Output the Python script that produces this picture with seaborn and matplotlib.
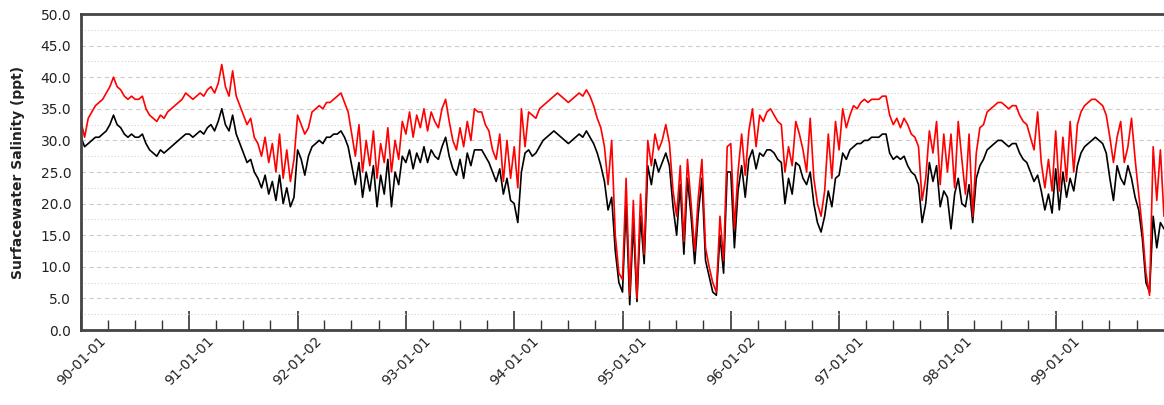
import matplotlib
matplotlib.use('Agg')
import matplotlib.pyplot as plt
import matplotlib.dates as mdates
import matplotlib.ticker as mticker
import pandas as pd
import seaborn as sns

# Salinity, ~12 day steps, one row per year (1990 .. 1999)
red_salinity = [
    33, 30.5, 33.5, 34.5, 35.5, 36, 36.5, 37.5, 38.5, 40, 38.5, 38, 37, 36.5, 37, 36.5, 36.5, 37, 35, 34, 33.5, 33, 34, 33.5, 34.5, 35, 35.5, 36, 36.5, 37.5,
    37, 36.5, 37, 37.5, 37, 38, 38.5, 37.5, 39, 42, 38.5, 37, 41, 37, 35.5, 34, 32.5, 33.5, 30.5, 29.5, 27.5, 30.5, 26.5, 29.5, 25, 31, 24, 28.5, 23.5, 27,
    34, 32.5, 31, 32, 34.5, 35, 35.5, 35, 36, 36, 36.5, 37, 37.5, 36, 34.5, 31, 27.5, 32.5, 25, 30, 26, 31.5, 24, 29.5, 26.5, 32, 25, 30, 27, 33,
    31, 34.5, 30.5, 34, 32, 35, 31.5, 34.5, 33, 32, 35, 36.5, 33, 30, 28.5, 32, 29, 33, 30, 35, 34.5, 34.5, 32.5, 31.5, 28.5, 27, 31, 23.5, 30, 24,
    29, 22.5, 35, 29, 34.5, 34, 33.5, 35, 35.5, 36, 36.5, 37, 37.5, 37, 36.5, 36, 36.5, 37, 37.5, 37, 38, 37, 35.5, 33.5, 32, 29, 23, 30, 15, 9,
    8, 24, 5.5, 20.5, 5, 21.5, 12, 30, 26, 31, 28.5, 30, 32.5, 29.5, 22, 18, 26, 14, 27, 20, 12.5, 21, 27, 13, 10, 7.5, 6, 18, 11, 29,
    29.5, 16, 25, 31, 24.5, 31.5, 35, 29, 34, 33, 34.5, 35, 34, 33, 32.5, 25, 29, 26, 33, 31, 28.5, 25, 33.5, 24, 20, 18, 22, 31, 24, 33,
    28.5, 35, 32, 34, 35.5, 35, 36, 36.5, 36, 36.5, 36.5, 36.5, 37, 37, 34, 32.5, 33.5, 32, 33.5, 32.5, 31, 30.5, 29, 20.5, 24, 31.5, 28, 33, 23, 31,
    25, 31, 22.5, 33, 27, 21.5, 31, 18, 28, 32, 32.5, 34.5, 35, 35.5, 36, 36, 35.5, 35, 35.5, 35.5, 34, 33, 32.5, 30.5, 28.5, 34.5, 26.5, 22.5, 27, 22,
    31.5, 22, 30.5, 23.5, 33, 25, 32.5, 34.5, 35.5, 36, 36.5, 36.5, 36, 35.5, 34, 30.5, 26.5, 30.5, 33, 26.5, 29, 33.5, 27, 21.5, 16, 9, 5.5, 29, 20.5, 28.5,
    18,
]
black_salinity = [
    30.5, 29, 29.5, 30, 30.5, 30.5, 31, 31.5, 32.5, 34, 32.5, 32, 31, 30.5, 31, 30.5, 30.5, 31, 29.5, 28.5, 28, 27.5, 28.5, 28, 28.5, 29, 29.5, 30, 30.5, 31,
    31, 30.5, 31, 31.5, 31, 32, 32.5, 31.5, 33, 35, 32.5, 31.5, 34, 31, 29.5, 28, 26.5, 27, 25, 24, 22.5, 24.5, 21.5, 23.5, 20.5, 24.5, 20, 22.5, 19.5, 21,
    28.5, 27, 24.5, 27.5, 29, 29.5, 30, 29.5, 30.5, 30.5, 31, 31, 31.5, 30.5, 29, 26, 23, 26.5, 21, 25, 22, 26, 19.5, 24.5, 21.5, 27, 19.5, 25, 23, 27.5,
    26.5, 28.5, 25.5, 28, 26.5, 29, 26.5, 28.5, 27.5, 27, 29, 30.5, 27.5, 25.5, 24.5, 27, 24, 28, 26, 28.5, 28.5, 28.5, 27.5, 26.5, 25, 23.5, 25.5, 21.5, 24, 20.5,
    20, 17, 25, 28, 28.5, 27.5, 28, 29, 30, 30.5, 31, 31.5, 31, 30.5, 30, 29.5, 30, 30.5, 31, 30.5, 31.5, 30.5, 29.5, 28, 26, 23.5, 19, 21, 12.5, 7.5,
    6, 20, 4, 17, 4.5, 18, 10.5, 26, 23, 27, 25, 26.5, 28, 26, 19.5, 15, 23, 12, 24, 18, 10.5, 18.5, 24, 11, 8.5, 6, 5.5, 15, 9, 25,
    25, 13, 22, 26, 21, 27, 28.5, 25.5, 28, 27.5, 28.5, 28.5, 28, 27, 26.5, 20, 24, 21.5, 26.5, 26, 24, 23, 25, 20, 17, 15.5, 18, 22, 19.5, 24,
    24.5, 28, 27, 28.5, 29, 29.5, 29.5, 30, 30, 30.5, 30.5, 30.5, 31, 31, 28, 27, 27.5, 27, 27.5, 26, 25, 24.5, 23, 17, 20, 26.5, 23.5, 26, 19.5, 22,
    21, 16, 21.5, 24, 20, 19.5, 23, 17, 24, 26, 27, 28.5, 29, 29.5, 30, 30, 29.5, 29, 29.5, 29.5, 28, 27, 26.5, 25, 23.5, 24.5, 22, 19, 21.5, 18.5,
    25.5, 19, 25, 21, 24, 22, 26, 28, 29, 29.5, 30, 30.5, 30, 29.5, 28, 24, 20.5, 26, 24, 23, 26, 24, 21, 19, 14.5, 7.5, 6, 18, 13, 17,
    16,
]

start_date = '1990-01-01'
end_date = '2000-01-01'
tick_dates = ['1990-01-01', '1991-01-01', '1992-01-02', '1993-01-01', '1994-01-01',
              '1995-01-01', '1996-01-02', '1997-01-01', '1998-01-01', '1999-01-01']
tick_labels = ['90-01-01', '91-01-01', '92-01-02', '93-01-01', '94-01-01',
               '95-01-01', '96-01-02', '97-01-01', '98-01-01', '99-01-01']

df = pd.DataFrame({
    'date': pd.date_range(start_date, end_date, periods=len(red_salinity)),
    'red': red_salinity,
    'black': black_salinity,
})

sns.set_style('white')
plt.rcParams['font.family'] = ['DejaVu Sans']

fig = plt.figure(figsize=(11.64, 4.05), dpi=100)
ax = fig.add_axes([81 / 1164, 75 / 405, 1083 / 1164, 316 / 405])

sns.lineplot(data=df, x='date', y='black', color='black', linewidth=1.2, ax=ax)
sns.lineplot(data=df, x='date', y='red', color='#ff0000', linewidth=1.2, ax=ax)

ax.set_xlim(pd.Timestamp(start_date), pd.Timestamp(end_date))
ax.set_ylim(0, 50)

# y axis: labels every 5, dashed grid every 5, dotted in between
ax.yaxis.set_major_locator(mticker.MultipleLocator(5))
ax.yaxis.set_minor_locator(mticker.MultipleLocator(2.5))
ax.yaxis.set_major_formatter(mticker.FormatStrFormatter('%.1f'))
ax.grid(which='major', axis='y', color='#cccccc', linestyle=(0, (4, 3)), linewidth=0.8)
ax.grid(which='minor', axis='y', color='#d5d5d5', linestyle=(0, (1, 2)), linewidth=0.8)
ax.set_axisbelow(True)
ax.tick_params(axis='y', which='both', length=0, labelsize=10, pad=7, labelcolor='#222222')

# x axis: yearly ticks with labels, quarterly minor ticks, all pointing inward
ax.set_xticks(pd.to_datetime(tick_dates))
ax.set_xticklabels(tick_labels, rotation=45, ha='center')
ax.xaxis.set_minor_locator(mdates.MonthLocator(bymonth=[4, 7, 10]))
ax.tick_params(axis='x', which='both', bottom=True, top=False)
ax.tick_params(axis='x', which='major', direction='in', length=14, width=1.2,
               color='#333333', labelsize=10, pad=3, labelcolor='#222222')
ax.tick_params(axis='x', which='minor', direction='in', length=7, width=1.0, color='#333333')

ax.set_xlabel('')
ax.set_ylabel('Surfacewater Salinity (ppt)', fontsize=10, fontweight='bold', color='#222222')
ax.yaxis.set_label_coords(-0.052, 0.5)

for side in ['left', 'top', 'bottom']:
    ax.spines[side].set_color('#444444')
    ax.spines[side].set_linewidth(2)
ax.spines['right'].set_visible(False)

fig.savefig('out.png', dpi=100)
